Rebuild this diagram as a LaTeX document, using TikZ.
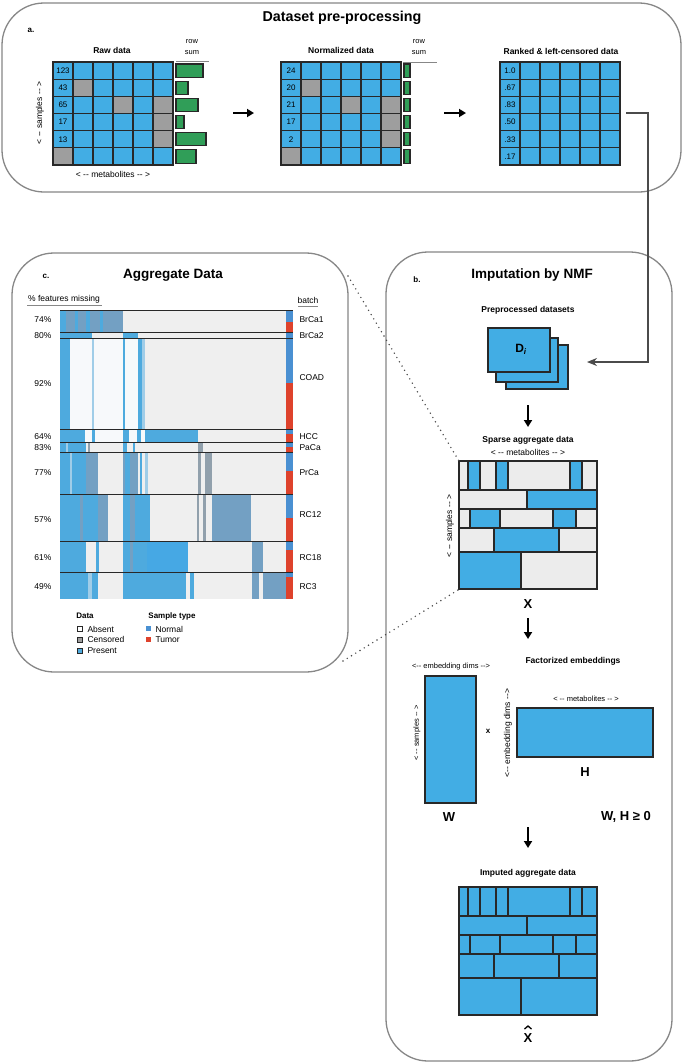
\documentclass[tikz,border=0pt]{standalone}
\usepackage{fontspec}
\setmainfont{Liberation Sans}
\usetikzlibrary{arrows.meta}
\definecolor{cblue}{RGB}{66,173,228}
\definecolor{cgray}{RGB}{158,158,158}
\definecolor{cgreen}{RGB}{48,158,88}
\definecolor{cline}{RGB}{40,40,40}
\definecolor{pborder}{RGB}{135,135,135}
\definecolor{lgray}{RGB}{236,236,236}
\definecolor{hlight}{RGB}{239,239,239}
\definecolor{hwhite}{RGB}{247,249,251}
\definecolor{hpale}{RGB}{160,205,232}
\definecolor{hblue}{RGB}{78,170,222}
\definecolor{hblue2}{RGB}{70,168,228}
\definecolor{hmix}{RGB}{115,160,195}
\definecolor{hgray}{RGB}{145,160,172}
\definecolor{bnormal}{RGB}{74,144,210}
\definecolor{btumor}{RGB}{222,66,44}
\definecolor{conn}{RGB}{75,75,75}
\begin{document}
\begin{tikzpicture}[x=1pt,y=-1pt,
  panel/.style={draw=pborder,line width=1.3pt,rounded corners=42pt},
  cell/.style={draw=cline,line width=1.1pt},
  outer/.style={draw=cline,line width=1.6pt},
  bigarrow/.style={-{Triangle[length=7pt,width=8pt]},line width=2pt,black},
  connector/.style={-{Stealth[length=10pt,width=8pt]},line width=1.3pt,draw=conn},
  dotline/.style={line width=1.6pt,draw=conn,dash pattern=on 0pt off 5pt,line cap=round},
  ptitle/.style={font=\fontsize{13.5}{15}\selectfont\bfseries},
  lab/.style={font=\fontsize{8.5}{10}\selectfont\bfseries},
  small/.style={font=\fontsize{8.5}{10}\selectfont},
  tiny/.style={font=\fontsize{7.5}{9}\selectfont},
  num/.style={font=\fontsize{8}{9}\selectfont},
  big/.style={font=\fontsize{13}{14}\selectfont\bfseries},
  hdr/.style={font=\fontsize{8}{9}\selectfont\bfseries}]
\useasboundingbox (0,0) rectangle (685,1063);
\fill[white] (0,0) rectangle (685,1063);

% ---------------- Panel a ----------------
\draw[panel] (2,3) rectangle (681,192);
\node[font=\fontsize{14.3}{16}\selectfont\bfseries] (ta) at (342,18) {Dataset pre-processing};
\node[hdr] (la) at (31,30) {a.};

% Raw data grid
\foreach \r in {0,...,5} \foreach \c in {0,...,5}
  \draw[cell,fill=cblue] ({53+20*\c},{62+17.17*\r}) rectangle ++(20,17.17);
\foreach \c/\r in {1/1,3/2,5/2,5/3,5/4,0/5}
  \draw[cell,fill=cgray] ({53+20*\c},{62+17.17*\r}) rectangle ++(20,17.17);
\draw[outer] (53,62) rectangle (173,165);
\node[inner sep=0,minimum width=120pt,minimum height=103pt,anchor=north west] (raw) at (53,62) {};
\foreach \r/\t in {0/123,1/43,2/65,3/17,4/13}
  \node[num] (rn\r) at (63,{62+17.17*\r+8.6}) {\t};
\node[lab] (rawt) at (112,50) {Raw data};
\node[tiny] (rs1) at (192,42) {row};
\node[tiny] (rs2) at (192,53) {sum};
\draw[pborder,line width=0.7pt] (176,61) -- (209,61);
\foreach \r/\w in {0/27,1/12,2/22,3/8,4/30,5/20}
  \draw[fill=cgreen,draw=cline,line width=1.1pt] (176,{62+17.17*\r+2}) rectangle ++(\w,13.2);
\node[small] (rmet) at (113,174) {< -{}- metabolites -{}- >};
\node[small,rotate=90] (rsam) at (40,113) {< -{}- samples -{}- >};

% arrow 1
\coordinate (a1s) at (233,113); \coordinate (a1e) at (254,113);
\draw[bigarrow] (a1s) -- (a1e);

% Normalized grid
\foreach \r in {0,...,5} \foreach \c in {0,...,5}
  \draw[cell,fill=cblue] ({281+20*\c},{62+17.17*\r}) rectangle ++(20,17.17);
\foreach \c/\r in {1/1,3/2,5/2,5/3,5/4,0/5}
  \draw[cell,fill=cgray] ({281+20*\c},{62+17.17*\r}) rectangle ++(20,17.17);
\draw[outer] (281,62) rectangle (401,165);
\node[inner sep=0,minimum width=120pt,minimum height=103pt,anchor=north west] (norm) at (281,62) {};
\foreach \r/\t in {0/24,1/20,2/21,3/17,4/2}
  \node[num] (nn\r) at (291,{62+17.17*\r+8.6}) {\t};
\node[lab] (normt) at (341,50) {Normalized data};
\node[tiny] (ns1) at (419,42) {row};
\node[tiny] (ns2) at (419,53) {sum};
\draw[pborder,line width=0.7pt] (403,62) -- (437,62);
\foreach \r in {0,...,5}
  \draw[fill=cgreen,draw=cline,line width=1.1pt] (404,{62+17.17*\r+2}) rectangle ++(6,13.2);

% arrow 2
\coordinate (a2s) at (444,113); \coordinate (a2e) at (466,113);
\draw[bigarrow] (a2s) -- (a2e);

% Ranked grid
\foreach \r in {0,...,5} \foreach \c in {0,...,5}
  \draw[cell,fill=cblue] ({500+20*\c},{62+17.17*\r}) rectangle ++(20,17.17);
\draw[outer] (500,62) rectangle (620,165);
\node[inner sep=0,minimum width=120pt,minimum height=103pt,anchor=north west] (rank) at (500,62) {};
\foreach \r/\t in {0/1.0,1/.67,2/.83,3/.50,4/.33,5/.17}
  \node[num] (kn\r) at (510,{62+17.17*\r+8.6}) {\t};
\node[lab] (rankt) at (561,51) {Ranked \& left-censored data};

% ---------------- Panel c ----------------
\draw[panel] (12,253) rectangle (348,672);
\node[hdr] (lc) at (46,276) {c.};
\node[ptitle] (tc) at (173,275) {Aggregate Data};
\node[small] (fm) at (64,299) {\% features missing};
\draw[pborder,line width=0.8pt] (27,305) -- (102,305);
\node[small] (bt) at (308,300) {batch};
\draw[pborder,line width=0.8pt] (298,306) -- (318,306);

\fill[hlight] (60,310) rectangle (286,599);
\foreach \ya/\yb/\xa/\xb/\cl in {
 310/332/60/123/hmix, 310/332/60/66/hblue, 310/332/75/78/hblue, 310/332/86/90/hblue, 310/332/100/103/hblue,
 332/338/60/92/hblue, 332/338/123/138/hblue,
 338/429/70/145/hwhite, 338/429/60/70/hblue, 338/429/92/94/hpale, 338/429/123/125/hblue, 338/429/138/142/hblue, 338/429/142/145/hpale,
 429/442/60/145/hwhite, 429/442/60/85/hblue, 429/442/92/95/hblue, 429/442/123/129/hblue, 429/442/137/141/hblue, 429/442/145/198/hblue,
 442/452/60/86/hblue, 442/452/66/68/hpale, 442/452/88/90/hgray, 442/452/123/127/hblue, 442/452/133/135/hblue, 442/452/198/203/hgray,
 452/494/60/86/hblue, 452/494/86/98/hmix, 452/494/70/72/hpale, 452/494/123/138/hmix, 452/494/125/130/hblue, 452/494/140/142/hblue, 452/494/145/148/hpale, 452/494/198/201/hgray, 452/494/205/212/hgray,
 494/541/60/98/hblue, 494/541/98/108/hmix, 494/541/80/83/hmix, 494/541/123/150/hblue, 494/541/130/135/hmix, 494/541/197/199/hgray, 494/541/203/206/hgray, 494/541/212/251/hmix,
 541/572/60/86/hblue, 541/572/96/99/hblue, 541/572/123/147/hblue, 541/572/130/133/hmix, 541/572/147/188/hblue2, 541/572/252/263/hmix,
 572/599/60/98/hblue, 572/599/88/92/hpale, 572/599/123/186/hblue, 572/599/190/194/hblue, 572/599/252/259/hmix, 572/599/263/286/hmix}
 \fill[\cl] (\xa,\ya) rectangle (\xb,\yb);
% batch column
\foreach \ya/\yb/\cl in {310/322/bnormal,322/332/btumor,332/338/bnormal,338/383/bnormal,383/429/btumor,
  429/434/bnormal,434/442/btumor,442/447/bnormal,447/452/btumor,452/471/bnormal,471/494/btumor,
  494/518/bnormal,518/541/btumor,541/550/bnormal,550/572/btumor,572/577/bnormal,577/599/btumor}
 \fill[\cl] (286,\ya) rectangle (293,\yb);
\foreach \y in {310,332,338,429,442,452,494,541,572}
 \draw[cline,line width=0.9pt] (60,\y) -- (293,\y);
\node[inner sep=0,minimum width=226pt,minimum height=289pt,anchor=north west] (heat) at (60,310) {};
% labels
\foreach \y/\p/\b in {320/74\%/BrCa1,336/80\%/BrCa2,437/64\%/HCC,448/83\%/PaCa,473/77\%/PrCa,558/61\%/RC18,587/49\%/RC3}{
 \node[small,anchor=east] at (55,\y) {\p};
 \node[small,anchor=west] at (296,\y) {\b};}
\node[small,anchor=east] (p92) at (55,384) {92\%};
\node[small,anchor=west] (bcoad) at (296,378) {COAD};
\node[small,anchor=east] (p57) at (55,520) {57\%};
\node[small,anchor=west] (brc12) at (296,515) {RC12};
% legend
\node[hdr] (ldata) at (85,616) {Data};
\node[hdr] (lst) at (172,616) {Sample type};
\draw[cline,fill=white,line width=0.6pt] (77,626) rectangle (82,631);
\draw[cline,fill=cgray,line width=0.6pt] (77,637) rectangle (82,642);
\draw[cline,fill=hblue,line width=0.6pt] (77,648) rectangle (82,653);
\node[small,anchor=west] (labs) at (84,629) {Absent};
\node[small,anchor=west] (lcen) at (84,639.5) {Censored};
\node[small,anchor=west] (lpre) at (84,650.5) {Present};
\fill[bnormal] (146,626) rectangle (151,631);
\fill[btumor] (146,637) rectangle (151,642);
\node[small,anchor=west] (lnor) at (152,629) {Normal};
\node[small,anchor=west] (ltum) at (152,639.5) {Tumor};

% ---------------- Panel b ----------------
\draw[panel] (386,252) rectangle (672,1061);
\node[hdr] (lb) at (417,280) {b.};
\node[ptitle] (tb) at (532,275) {Imputation by NMF};
\node[lab] (ppd) at (528,310) {Preprocessed datasets};
\draw[cell,fill=cblue,line width=1.3pt] (506,345) rectangle (568,389);
\draw[cell,fill=cblue,line width=1.3pt] (496,338) rectangle (558,382);
\draw[cell,fill=cblue,line width=1.3pt] (488,328) rectangle (550,372);
\node[inner sep=0,minimum width=80pt,minimum height=61pt,anchor=north west] (dstack) at (488,328) {};
\node[font=\fontsize{12}{13}\selectfont\bfseries] (di) at (521,349) {D\textsubscript{\itshape i}};

% connector from ranked data
\coordinate (cs) at (626,113); \coordinate (ce) at (587,362);
\draw[connector] (cs) -- (648,113) |- (ce);

\coordinate (v1s) at (528,405); \coordinate (v1e) at (528,427);
\draw[bigarrow] (v1s) -- (v1e);
\node[lab] (sad) at (528,440) {Sparse aggregate data};
\node[small] (smet) at (528,452) {< -{}- metabolites -{}- >};
\node[small,rotate=90] (ssam) at (450,526) {< -{}- samples -{}- >};

% sparse & imputed grids
\foreach \oy/\gc in {461/lgray,887/cblue}{
 \foreach \ya/\yb/\xa/\xb/\k in {
  0/29/459/468/0, 0/29/468/480/1, 0/29/480/496/0, 0/29/496/508/1, 0/29/508/570/0, 0/29/570/582/1, 0/29/582/597/0,
  29/48/459/527/0, 29/48/527/597/1,
  48/67/459/470/0, 48/67/470/500/1, 48/67/500/553/0, 48/67/553/576/1, 48/67/576/597/0,
  67/91/459/494/0, 67/91/494/559/1, 67/91/559/597/0,
  91/128/459/521/1, 91/128/521/597/0}{
   \ifnum\k=0 \def\cc{\gc}\else\def\cc{cblue}\fi
   \draw[cell,fill=\cc,line width=1.2pt] (\xa,{\oy+\ya}) rectangle (\xb,{\oy+\yb});}
 \draw[outer] (459,\oy) rectangle (597,{\oy+128});}
\node[inner sep=0,minimum width=138pt,minimum height=128pt,anchor=north west] (sparse) at (459,461) {};
\node[inner sep=0,minimum width=138pt,minimum height=128pt,anchor=north west] (imp) at (459,887) {};
\node[big] (xlab) at (528,604) {X};

% dotted zoom lines
\coordinate (d1) at (348,276); \coordinate (d2) at (343,661);
\draw[dotline] (d1) -- (sparse.north west);
\draw[dotline] (d2) -- (sparse.south west);

\coordinate (v2s) at (528,618); \coordinate (v2e) at (528,639);
\draw[bigarrow] (v2s) -- (v2e);
\node[lab] (fe) at (573,661) {Factorized embeddings};
\node[tiny] (edim) at (451,667) {<-{}- embedding dims -{}->};
\draw[outer,fill=cblue,line width=1.3pt] (425,676) rectangle (476,803);
\node[inner sep=0,minimum width=51pt,minimum height=127pt,anchor=north west] (wmat) at (425,676) {};
\node[tiny,rotate=90] (wsam) at (417,733) {< -{}- samples -{}- >};
\node[font=\fontsize{8}{9}\selectfont\bfseries] (times) at (488,731) {x};
\node[small,rotate=90] (hdim) at (508,733) {<-{}- embedding dims -{}->};
\draw[outer,fill=cblue,line width=1.3pt] (517,708) rectangle (653,757);
\node[inner sep=0,minimum width=136pt,minimum height=49pt,anchor=north west] (hmat) at (517,708) {};
\node[tiny] (hmet) at (586,699) {< -{}- metabolites -{}- >};
\node[big] (hl) at (585,772) {H};
\node[big] (wl) at (449,817) {W};
\node[big] (nn) at (626,817) {W, H ≥ 0};

\coordinate (v3s) at (528,827); \coordinate (v3e) at (528,848);
\draw[bigarrow] (v3s) -- (v3e);
\node[lab] (iad) at (528,873) {Imputed aggregate data};
\node[big] (xhat) at (528,1038) {X};
\draw[black,line width=1.3pt] (524.5,1029) -- (528,1026) -- (531.5,1029);
\end{tikzpicture}
\end{document}
